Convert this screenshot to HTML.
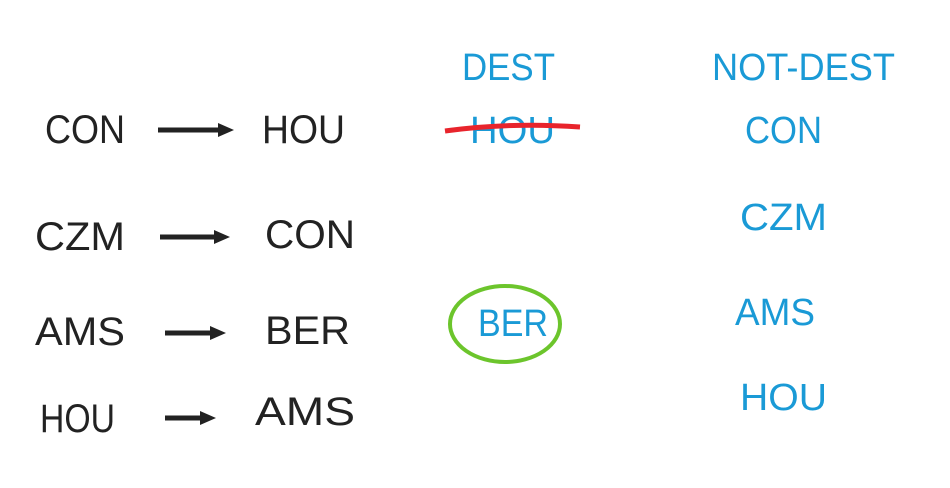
<!DOCTYPE html>
<html><head><meta charset="utf-8"><style>
html,body{margin:0;padding:0;background:#fff;width:950px;height:488px;overflow:hidden}
svg text{font-family:"Liberation Sans",sans-serif;}
.k{fill:#222;font-size:40px}
.b{fill:#1a9ad6;font-size:38px}
</style></head><body>
<svg width="950" height="488" viewBox="0 0 950 488">
<defs><marker id="ah" markerUnits="userSpaceOnUse" markerWidth="18" markerHeight="14" refX="4" refY="7" orient="auto"><path d="M0,0 L16,7 L0,14 Z" fill="#222"/></marker></defs>
<g>
<text class="k" x="45" y="143" textLength="80" lengthAdjust="spacingAndGlyphs">CON</text>
<line x1="158" y1="130" x2="222" y2="130" stroke="#222" stroke-width="5" marker-end="url(#ah)"/>
<text class="k" x="262" y="143" textLength="83" lengthAdjust="spacingAndGlyphs">HOU</text>
<text class="k" x="35" y="250" textLength="90" lengthAdjust="spacingAndGlyphs">CZM</text>
<line x1="160" y1="237" x2="218" y2="237" stroke="#222" stroke-width="5" marker-end="url(#ah)"/>
<text class="k" x="265" y="248" textLength="90" lengthAdjust="spacingAndGlyphs">CON</text>
<text class="k" x="35" y="345" textLength="90" lengthAdjust="spacingAndGlyphs">AMS</text>
<line x1="165" y1="333" x2="214" y2="333" stroke="#222" stroke-width="5" marker-end="url(#ah)"/>
<text class="k" x="265" y="344" textLength="85" lengthAdjust="spacingAndGlyphs">BER</text>
<text class="k" x="40" y="432" textLength="75" lengthAdjust="spacingAndGlyphs">HOU</text>
<line x1="165" y1="418" x2="204" y2="418" stroke="#222" stroke-width="5" marker-end="url(#ah)"/>
<text class="k" x="255" y="425" textLength="100" lengthAdjust="spacingAndGlyphs">AMS</text>
</g>
<g>
<text class="b" x="462" y="80" textLength="93" lengthAdjust="spacingAndGlyphs">DEST</text>
<text class="b" x="470" y="143" textLength="85" lengthAdjust="spacingAndGlyphs">HOU</text>
<path d="M445,131 Q510,122 580,127" stroke="#e8242c" stroke-width="5" fill="none"/>
<text class="b" x="478" y="336" textLength="70" lengthAdjust="spacingAndGlyphs">BER</text>
<ellipse cx="505" cy="324" rx="55" ry="38" fill="none" stroke="#6cc52c" stroke-width="4"/>
</g>
<g>
<text class="b" x="712" y="80" textLength="183" lengthAdjust="spacingAndGlyphs">NOT-DEST</text>
<text class="b" x="745" y="143" textLength="77" lengthAdjust="spacingAndGlyphs">CON</text>
<text class="b" x="740" y="230" textLength="87" lengthAdjust="spacingAndGlyphs">CZM</text>
<text class="b" x="735" y="325" textLength="80" lengthAdjust="spacingAndGlyphs">AMS</text>
<text class="b" x="740" y="410" textLength="87" lengthAdjust="spacingAndGlyphs">HOU</text>
</g>
</svg>
</body></html>
